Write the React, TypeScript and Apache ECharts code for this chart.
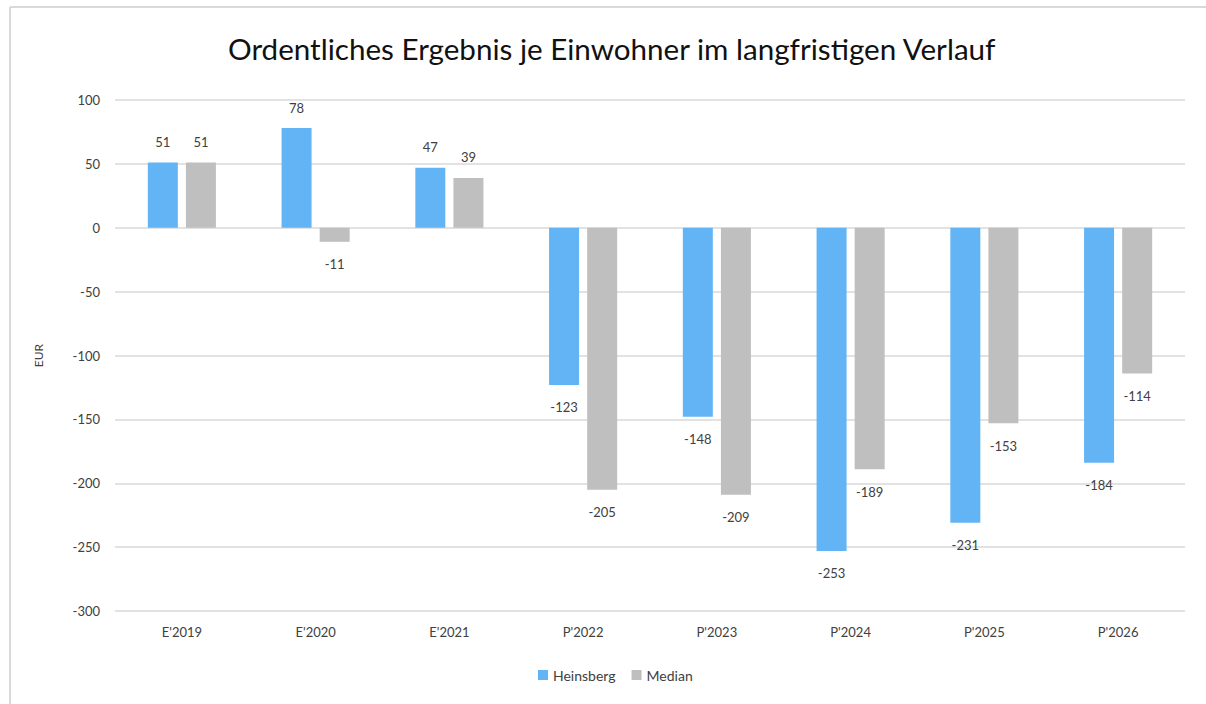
import React, { useEffect, useRef } from "react";
import * as echarts from "echarts";

const categories = ["E'2019", "E'2020", "E'2021", "P'2022", "P'2023", "P'2024", "P'2025", "P'2026"];
const heinsberg = [51, 78, 47, -123, -148, -253, -231, -184];
const median = [51, -11, 39, -205, -209, -189, -153, -114];
const seriesNames = ["Heinsberg", "Median"];
const titleText = "Ordentliches Ergebnis je Einwohner im langfristigen Verlauf";

const FONT = "Lato, 'Open Sans', sans-serif";

function toData(arr: number[]) {
  return arr.map((v) => ({
    value: v,
    label: { position: v < 0 ? "bottom" : "top", distance: v < 0 ? 16 : 14 },
  }));
}

export default function App() {
  const ref = useRef<HTMLDivElement>(null);
  useEffect(() => {
    if (!ref.current) return;
    document.body.style.margin = "0";
    document.body.style.overflow = "hidden";
    const chart = echarts.init(ref.current, null, { renderer: "svg" });
    const labelStyle = {
      show: true,
      color: "#404040",
      fontSize: 13,
      fontFamily: FONT,
    };
    chart.setOption({
      animation: false,
      backgroundColor: "#ffffff",
      title: {
        text: titleText,
        left: 223,
        top: 28,
        textStyle: { fontSize: 29.6, fontWeight: "normal", color: "#111111", fontFamily: FONT },
      },
      graphic: [
        {
          type: "line",
          shape: { x1: 10, y1: 7, x2: 1206, y2: 7 },
          style: { stroke: "#d9d9d9", lineWidth: 2 },
          silent: true,
        },
        {
          type: "line",
          shape: { x1: 10, y1: 7, x2: 10, y2: 704 },
          style: { stroke: "#d9d9d9", lineWidth: 2 },
          silent: true,
        },
      ],
      legend: {
        data: seriesNames,
        bottom: 17,
        left: 533,
        itemWidth: 10,
        itemHeight: 10,
        itemGap: 16,
        icon: "rect",
        textStyle: { fontSize: 14, color: "#404040", fontFamily: FONT },
      },
      grid: { left: 115, right: 21, top: 100, bottom: 93, containLabel: false },
      xAxis: {
        type: "category",
        data: categories,
        axisLine: { show: false },
        axisTick: { show: false },
        axisLabel: { color: "#404040", fontSize: 13, margin: 14, fontFamily: FONT },
      },
      yAxis: {
        type: "value",
        min: -300,
        max: 100,
        interval: 50,
        name: "EUR",
        nameLocation: "middle",
        nameGap: 71,
        nameRotate: 90,
        nameTextStyle: { color: "#404040", fontSize: 12, fontFamily: FONT },
        axisLine: { show: false },
        axisTick: { show: false },
        axisLabel: { color: "#404040", fontSize: 13, margin: 15, fontFamily: FONT },
        splitLine: { lineStyle: { color: "#d9d9d9", width: 1.5 } },
      },
      series: [
        {
          name: seriesNames[0],
          type: "bar",
          data: toData(heinsberg),
          barWidth: 30,
          barGap: "27%",
          itemStyle: { color: "#63b4f5" },
          label: labelStyle,
        },
        {
          name: seriesNames[1],
          type: "bar",
          data: toData(median),
          barWidth: 30,
          barGap: "27%",
          itemStyle: { color: "#bfbfbf" },
          label: labelStyle,
        },
      ],
    });
    return () => chart.dispose();
  }, []);
  return (
    <div
      ref={ref}
      style={{ position: "fixed", left: 0, top: 0, width: 1206, height: 704, overflow: "hidden" }}
    />
  );
}
